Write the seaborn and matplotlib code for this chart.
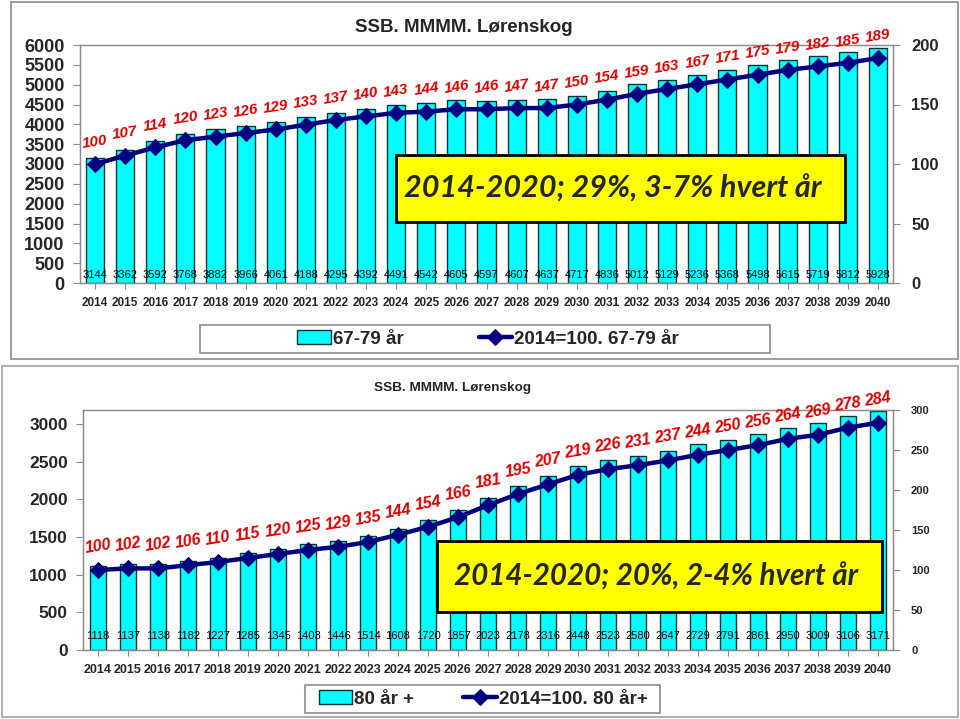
import numpy as np
import matplotlib
matplotlib.use("Agg")
import matplotlib.pyplot as plt
import matplotlib.patches as mpatches
import seaborn as sns

# data
years = [str(y) for y in range(2014, 2041)]
pop_67_79 = [3144, 3362, 3592, 3768, 3882, 3966, 4061, 4188, 4295, 4392, 4491, 4542, 4605, 4597,
             4607, 4637, 4717, 4836, 5012, 5129, 5236, 5368, 5498, 5615, 5719, 5812, 5928]
idx_67_79 = [100, 107, 114, 120, 123, 126, 129, 133, 137, 140, 143, 144, 146, 146,
             147, 147, 150, 154, 159, 163, 167, 171, 175, 179, 182, 185, 189]
pop_80 = [1118, 1137, 1138, 1182, 1227, 1285, 1345, 1403, 1446, 1514, 1608, 1720, 1857, 2023,
          2178, 2316, 2448, 2523, 2580, 2647, 2729, 2791, 2861, 2950, 3009, 3106, 3171]
idx_80 = [100, 102, 102, 106, 110, 115, 120, 125, 129, 135, 144, 154, 166, 181,
          195, 207, 219, 226, 231, 237, 244, 250, 256, 264, 269, 278, 284]

title = "SSB. MMMM. Lørenskog"
note_top = "2014-2020; 29%, 3-7% hvert år"
note_bot = "2014-2020; 20%, 2-4% hvert år"
leg_top = ["67-79 år", "2014=100. 67-79 år"]
leg_bot = ["80 år +", "2014=100. 80 år+"]

sns.set_style("white")
plt.rcParams["font.family"] = ["Liberation Sans", "DejaVu Sans"]

CYAN = "#00ffff"
NAVY = "#000080"
RED = "#e00000"
GRAY = "#8c8c8c"

fig = plt.figure(figsize=(9.6, 7.19), dpi=100)


def px_rect(x0, y0, x1, y1, **kw):
    # rectangle given in reference pixel coords
    r = mpatches.Rectangle((x0 / 960, 1 - y1 / 719), (x1 - x0) / 960, (y1 - y0) / 719,
                           transform=fig.transFigure, **kw)
    fig.add_artist(r)
    return r


# outer panel frames
px_rect(11, 2, 958, 359, fill=False, ec=GRAY, lw=1.2, zorder=8)
px_rect(2, 366, 958, 717, fill=False, ec="#b0b0b0", lw=1.5, zorder=8)


def panel(rect, pops, idx, ymax, ytick_step, ymax2, ytick2, bar_w, fs_left, fs_right,
          fs_idx, fs_x, lab_y, off):
    ax = fig.add_axes(rect)
    sns.barplot(x=years, y=pops, ax=ax, color=CYAN, edgecolor="#003333", linewidth=1,
                width=bar_w, saturation=1)
    ax.set_xlim(-0.5, len(years) - 0.5)
    ax.set_ylim(0, ymax)
    ax.set_yticks(np.arange(0, ymax + 1, ytick_step))
    ax.set_xlabel("")
    ax.set_ylabel("")
    for s in ax.spines.values():
        s.set_color(GRAY)
        s.set_linewidth(1)
    ax.tick_params(axis="y", length=5, color=GRAY, labelsize=fs_left, left=True, pad=6)
    ax.tick_params(axis="x", length=4, color=GRAY, labelsize=fs_x, bottom=True, pad=6)
    for t in ax.get_yticklabels() + ax.get_xticklabels():
        t.set_fontweight("bold")
    for i, v in enumerate(pops):
        ax.text(i, lab_y, str(v), ha="center", va="center", fontsize=8, color="black")

    ax2 = ax.twinx()
    sns.lineplot(x=np.arange(len(years)), y=idx, ax=ax2, color=NAVY, marker="D",
                 markersize=8, linewidth=3.2, markeredgecolor=NAVY)
    ax2.set_ylim(0, ymax2)
    ax2.set_yticks(np.arange(0, ymax2 + 1, ytick2))
    ax2.tick_params(axis="y", length=5, color=GRAY, labelsize=fs_right, right=True, pad=8)
    for t in ax2.get_yticklabels():
        t.set_fontweight("bold")
    for s in ax2.spines.values():
        s.set_color(GRAY)
    ax2.set_ylabel("")
    for i, v in enumerate(idx):
        ax2.annotate(str(v), (i, v), xytext=(0, off), textcoords="offset points",
                     ha="center", va="center", rotation=9, color=RED,
                     fontsize=fs_idx, fontweight="bold", fontstyle="italic")
    return ax, ax2


# top panel
axt, axt2 = panel([80 / 960, 1 - 283 / 719, 813 / 960, 238 / 719], pop_67_79, idx_67_79,
                  6000, 500, 200, 50, 0.6, 13, 12, 11, 8.5, 200, 16)
fig.text(464 / 960, 1 - 28 / 719, title, ha="center", va="center", fontsize=13.5,
         fontweight="bold")

# bottom panel
axb, axb2 = panel([83 / 960, 1 - 650 / 719, 810 / 960, 240 / 719], pop_80, idx_80,
                  3186, 500, 300, 50, 0.55, 12.5, 8, 11.5, 9, 186, 17)
fig.text(453 / 960, 1 - 388 / 719, title, ha="center", va="center", fontsize=9.7,
         fontweight="bold")

# yellow note boxes
for (x0, y0, x1, y1), tx, note, fs in [((396, 155, 845, 222), 613, note_top, 22),
                                       ((437, 541, 882, 612), 656, note_bot, 21.3)]:
    px_rect(x0, y0, x1, y1, fc="#ffff00", ec="black", lw=2, zorder=5)
    fig.text(tx / 960, 1 - (y0 + y1) / 2 / 719, note, ha="center", va="center",
             fontsize=fs, fontweight="bold", fontstyle="italic", family="Lato", zorder=6)

# legends (frame drawn separately, like the wide Excel legend box)
for ax, ax2, labels, box, cx, gap in [(axt, axt2, leg_top, (200, 325, 770, 353), 488, 4.0),
                                      (axb, axb2, leg_bot, (305, 685, 660, 713), 483, 2.6)]:
    px_rect(*box, fill=False, ec=GRAY, lw=1.2, zorder=8)
    cy = (box[1] + box[3]) / 2
    handles = [ax.patches[0], ax2.lines[0]]
    fig.legend(handles, labels, loc="center", bbox_to_anchor=(cx / 960, 1 - cy / 719),
               ncol=2, frameon=False, prop={"size": 13.5, "weight": "bold"},
               columnspacing=gap, handlelength=1.8, handletextpad=0.1, borderpad=0.2)

fig.savefig("out.png", dpi=100)
